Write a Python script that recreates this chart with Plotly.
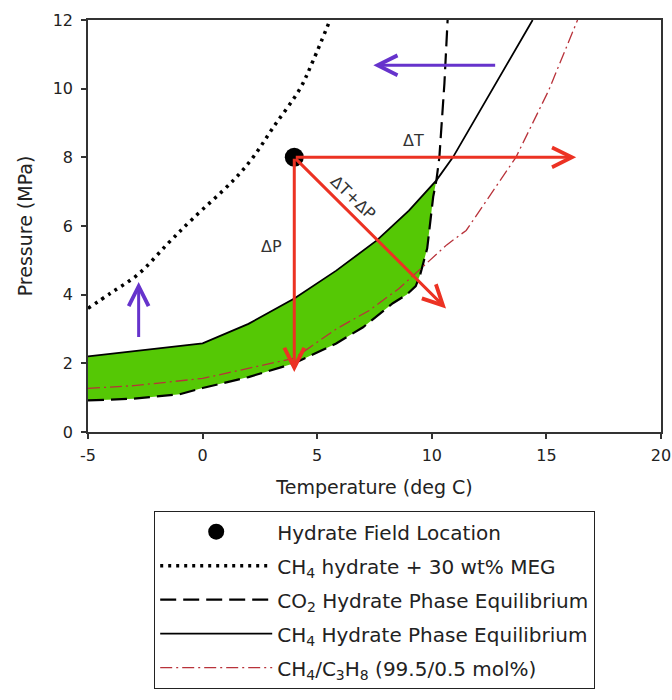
import plotly.graph_objects as go

# ---------------- data ----------------
# CH4 hydrate + 30 wt% MEG (dotted)
meg_T = [-5, -4, -2.8, -1.5, -0.45, 1.34, 2.2, 3.09, 4.25, 4.83, 5.56]
meg_P = [3.6, 4.05, 4.6, 5.5, 6.2, 7.33, 8.0, 8.88, 10.0, 10.83, 12.0]

# CO2 hydrate phase equilibrium (dashed)
co2_T = [-5, -3, -1, 0, 2, 4, 5.83, 7, 8.3, 8.9, 9.3, 9.5, 9.8, 10.06, 10.2, 10.33, 10.55, 10.69]
co2_P = [0.92, 0.97, 1.1, 1.28, 1.6, 2.0, 2.58, 3.05, 3.75, 4.0, 4.25, 4.6, 5.35, 6.85, 7.33, 8.0, 10.15, 12.0]

# CH4 hydrate phase equilibrium (solid)
ch4_T = [-5, -3, -1, 0, 2, 3.09, 4, 5.83, 7.6, 9, 10.2, 10.92, 12.8, 14.4]
ch4_P = [2.2, 2.35, 2.5, 2.58, 3.15, 3.54, 3.89, 4.7, 5.58, 6.45, 7.33, 8.0, 10.15, 12.0]

# CH4/C3H8 (99.5/0.5 mol%) (dash-dot)
mix_T = [-5, -3, 0, 2, 4, 5.83, 7.27, 8.57, 9.84, 10.65, 11.5, 13.67, 15.1, 16.36]
mix_P = [1.27, 1.35, 1.56, 1.85, 2.15, 3.0, 3.54, 4.18, 4.95, 5.45, 5.87, 8.0, 9.95, 12.0]

# intersection of CH4 and CO2 curves (right edge of the green zone)
cross_T = 10.2

# hydrate field location
field_T = [4]
field_P = [8]

# red arrows (from field location)
red_tip_T = [4, 16.3, 10.62]
red_tip_P = [1.75, 8, 3.6]

# blue arrows (tail -> tip)
blue_tail_T = [12.83, -2.79]
blue_tail_P = [10.68, 2.72]
blue_tip_T = [7.45, -2.79]
blue_tip_P = [10.68, 4.37]

# labels
label_text = ["ΔT", "ΔP", "ΔT+ΔP"]
label_T = [9.18, 3.02, 6.57]
label_P = [8.5, 5.39, 6.84]
label_angle = [0, 0, 44]

x_ticks = [-5, 0, 5, 10, 15, 20]
x_tick_text = ["-5", "0", "5", "10", "15", "20"]
y_ticks = [0, 2, 4, 6, 8, 10, 12]

# ---------------- styling ----------------
FONT = "DejaVu Sans, Liberation Sans, Arial, sans-serif"
RED = "#ec3223"
BLUE = "#6633cc"
GREEN = "#55c805"
TXT = "#222222"

fig = go.Figure()

# green region between CH4 (top) and CO2 (bottom) up to the crossing
top_T = [t for t in ch4_T if t <= cross_T]
top_P = [p for t, p in zip(ch4_T, ch4_P) if t <= cross_T]
bot_T = [t for t in co2_T if t <= cross_T]
bot_P = [p for t, p in zip(co2_T, co2_P) if t <= cross_T]
fig.add_trace(go.Scatter(
    x=top_T + bot_T[::-1], y=top_P + bot_P[::-1],
    mode="lines", fill="toself", fillcolor=GREEN,
    line=dict(width=0, color=GREEN), showlegend=False, hoverinfo="skip"))

fig.add_trace(go.Scatter(
    x=meg_T, y=meg_P, mode="lines", line_shape="spline",
    line=dict(color="black", width=3.5, dash="3px,5px"),
    name="CH<sub>4</sub> hydrate + 30 wt% MEG", legendrank=2, legendgroup="b"))

fig.add_trace(go.Scatter(
    x=co2_T, y=co2_P, mode="lines",
    line=dict(color="black", width=2.2, dash="16px,7px"),
    name="CO<sub>2</sub> Hydrate Phase Equilibrium", legendrank=3, legendgroup="c"))

fig.add_trace(go.Scatter(
    x=ch4_T, y=ch4_P, mode="lines",
    line=dict(color="black", width=1.8),
    name="CH<sub>4</sub> Hydrate Phase Equilibrium", legendrank=4, legendgroup="d"))

fig.add_trace(go.Scatter(
    x=mix_T, y=mix_P, mode="lines",
    line=dict(color="#b8323a", width=1.3, dash="12px,4px,2px,4px"),
    name="CH<sub>4</sub>/C<sub>3</sub>H<sub>8</sub> (99.5/0.5 mol%)", legendrank=5, legendgroup="e"))

fig.add_trace(go.Scatter(
    x=field_T, y=field_P, mode="markers",
    marker=dict(color="black", size=19),
    name="Hydrate Field Location", legendrank=1, legendgroup="a"))

annotations = []
for tx, ty in zip(red_tip_T, red_tip_P):
    annotations.append(dict(
        x=tx, y=ty, ax=field_T[0], ay=field_P[0],
        xref="x", yref="y", axref="x", ayref="y",
        text="", showarrow=True, arrowhead=5, arrowsize=1.3,
        arrowwidth=3, arrowcolor=RED, standoff=0))
for tx, ty, sx, sy in zip(blue_tip_T, blue_tip_P, blue_tail_T, blue_tail_P):
    annotations.append(dict(
        x=tx, y=ty, ax=sx, ay=sy,
        xref="x", yref="y", axref="x", ayref="y",
        text="", showarrow=True, arrowhead=5, arrowsize=1.3,
        arrowwidth=3, arrowcolor=BLUE, standoff=0))
for txt, lx, ly, ang in zip(label_text, label_T, label_P, label_angle):
    annotations.append(dict(
        x=lx, y=ly, xref="x", yref="y", text=txt, showarrow=False,
        textangle=ang, font=dict(family=FONT, size=16, color="#333333")))

axis_common = dict(
    showgrid=False, zeroline=False, showline=True, linecolor="#333333",
    linewidth=1.5, mirror=True, ticks="outside", ticklen=5, tickwidth=1.5,
    tickcolor="#333333", tickfont=dict(family=FONT, size=16, color=TXT))

fig.update_xaxes(range=[-5, 20], tickvals=x_ticks, ticktext=x_tick_text,
                 ticklabelstandoff=3,
                 title=dict(text="Temperature (deg C)", standoff=17,
                            font=dict(family=FONT, size=19, color=TXT)),
                 **axis_common)
fig.update_yaxes(range=[0, 12], tickvals=y_ticks, ticklabelstandoff=5,
                 title=dict(text="Pressure (MPa)", standoff=15,
                            font=dict(family=FONT, size=19, color=TXT)),
                 **axis_common)

fig.update_layout(
    width=672, height=700,
    margin=dict(l=88, r=11, t=20, b=268, autoexpand=False),
    paper_bgcolor="white", plot_bgcolor="white",
    annotations=annotations,
    legend=dict(
        x=(154 - 88) / 573, y=(432 - 511) / 412, xanchor="left", yanchor="top",
        bgcolor="white", bordercolor="#222222", borderwidth=1.2,
        font=dict(family=FONT, size=20, color=TXT),
        itemwidth=112, tracegroupgap=5, traceorder="grouped"),
)

fig.write_html(
    "out.html",
    config={"displayModeBar": False},
    post_script="document.body.style.margin='0px';document.body.style.overflow='hidden';",
)
